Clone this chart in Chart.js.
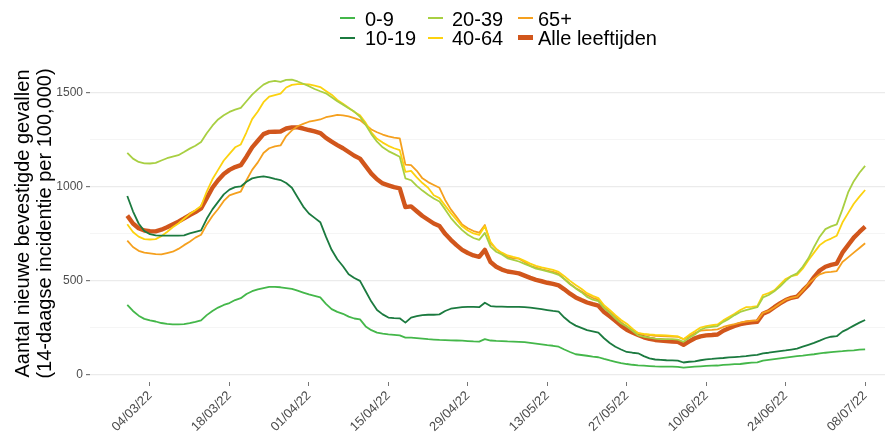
<!DOCTYPE html>
<html>
<head>
<meta charset="utf-8">
<script src="https://cdn.jsdelivr.net/npm/chart.js@4.4.1/dist/chart.umd.min.js"></script>
<style>
  html, body { margin: 0; padding: 0; background: #fff; }
  #wrap { position: relative; width: 885px; height: 438px; overflow: hidden; background: #fff; }
  #c { position: absolute; left: 0; top: 0; }
  .lg-text { position: absolute; font-family: "Liberation Sans", Arial, sans-serif; font-size: 20px; line-height: 19px; color: #000; white-space: nowrap; }
  .lg-key { position: absolute; width: 15px; }
</style>
</head>
<body>
<div id="wrap">
  <canvas id="c" width="885" height="438"></canvas>
  <div id="legend"></div>
</div>
<script>
// ---- Data (14-daagse incidentie per 100,000), daily from 28/02/22 to 08/07/22 ----
const seriesNames = ['0-9', '10-19', '20-39', '40-64', '65+', 'Alle leeftijden'];

const age0_9 = [
372,340,315,298,290,284,276,271,269,269,270,275,282,290,318,340,358,372,382,398,
408,430,445,455,462,468,468,466,462,458,448,438,428,420,412,378,350,335,325,310,
300,295,258,238,225,220,216,213,210,198,198,196,193,190,188,186,185,184,183,182,
180,178,177,190,183,181,180,178,177,176,174,170,166,162,158,155,150,135,122,110,
106,102,97,94,85,77,70,63,58,54,51,49,47,45,44,44,44,43,39,42,
44,46,48,49,50,53,55,57,58,62,65,67,76,80,84,88,92,96,100,103,
107,110,114,118,121,124,126,129,131,134,136];

const age10_19 = [
951,870,805,765,748,742,741,741,741,741,742,752,760,768,830,880,920,960,985,998,
1002,1027,1045,1052,1055,1050,1042,1036,1020,995,945,895,858,835,812,735,665,615,578,535,
515,500,445,390,345,322,305,302,301,278,305,312,318,320,320,322,340,352,357,360,
362,362,360,384,366,363,363,362,362,362,360,358,354,350,345,340,336,305,280,262,
250,238,232,225,195,170,150,135,122,118,115,100,88,82,80,78,77,76,66,70,
72,78,83,85,88,90,93,95,97,100,104,107,115,118,122,126,130,135,140,150,
160,170,182,195,203,206,230,245,262,278,292];

const age20_39 = [
1181,1150,1132,1125,1124,1127,1140,1152,1160,1168,1185,1203,1218,1238,1285,1325,1358,1380,1398,1410,
1420,1455,1490,1518,1543,1558,1563,1558,1568,1570,1560,1548,1535,1520,1508,1497,1476,1455,1437,1418,
1400,1372,1330,1280,1240,1210,1190,1175,1160,1045,1035,1005,980,958,938,922,880,835,800,770,
745,728,718,755,682,655,640,620,612,603,590,578,565,558,550,542,532,510,482,460,
440,415,400,392,355,330,300,275,258,235,210,203,198,193,190,190,190,188,176,198,
215,240,252,256,260,282,298,318,335,345,352,360,412,425,445,470,500,525,540,575,
620,680,735,775,790,800,880,970,1030,1075,1111];

const age40_64 = [
801,760,735,722,720,722,738,760,785,805,830,855,875,898,975,1040,1090,1140,1175,1210,
1225,1290,1360,1400,1450,1480,1488,1495,1528,1542,1546,1546,1545,1538,1530,1510,1490,1462,1442,1420,
1398,1380,1340,1290,1255,1235,1218,1205,1195,1080,1085,1050,1020,995,955,940,900,860,825,790,
768,752,744,790,708,668,650,635,627,620,606,592,580,572,565,558,548,525,500,478,
458,435,420,408,370,346,318,292,272,246,222,218,215,213,212,210,208,205,190,213,
232,252,260,264,268,290,308,325,345,360,362,365,425,435,450,480,510,525,532,565,
610,650,690,712,725,740,810,860,910,948,983];

const age65plus = [
714,680,660,650,646,642,641,648,655,670,690,708,730,745,800,845,882,925,955,965,
975,1035,1090,1130,1180,1205,1215,1220,1270,1300,1322,1335,1346,1352,1358,1370,1376,1382,1380,1375,
1365,1355,1330,1305,1290,1278,1268,1262,1258,1118,1115,1085,1045,1025,1010,995,930,880,840,800,
780,765,756,797,700,670,645,628,620,618,600,580,570,562,555,548,538,510,485,462,
445,425,410,400,360,336,310,280,258,238,222,216,212,208,207,205,204,203,190,205,
222,235,238,239,242,255,263,270,278,284,288,290,330,340,358,380,400,410,416,448,
485,512,535,545,548,552,600,625,650,675,700];

const allAges = [
847,805,780,768,764,763,772,785,800,815,832,850,866,885,940,995,1035,1068,1090,1105,
1115,1160,1210,1245,1280,1292,1293,1294,1310,1316,1316,1310,1302,1295,1286,1260,1240,1222,1205,1185,
1165,1150,1110,1070,1040,1018,1008,998,992,892,896,870,845,825,805,792,750,718,690,665,
648,635,628,665,600,575,560,550,545,540,528,516,505,498,490,484,476,455,432,412,
398,385,376,368,335,312,288,262,240,225,212,200,192,186,183,180,178,176,160,178,
195,205,210,212,215,235,248,260,270,276,280,283,325,338,360,380,398,410,416,448,
478,520,555,575,585,592,650,690,730,760,788];

const tickDates = ['04/03/22','18/03/22','01/04/22','15/04/22','29/04/22','13/05/22','27/05/22','10/06/22','24/06/22','08/07/22'];
const yMajorTicks = [0, 500, 1000, 1500];
const yMinorTicks = [250, 750, 1250];

// ---- Categories: the daily dates ----
const startUTC = Date.UTC(2022, 1, 28);
const dates = [];
for (let i = 0; i < allAges.length; i++) {
  const d = new Date(startUTC + i * 86400000);
  const dd = String(d.getUTCDate()).padStart(2, '0');
  const mm = String(d.getUTCMonth() + 1).padStart(2, '0');
  const yy = String(d.getUTCFullYear()).slice(2);
  dates.push(dd + '/' + mm + '/' + yy);
}

// ---- Styles ----
const FONT = '"Liberation Sans", Arial, sans-serif';
const colors = ['#44b74a', '#1b7a3f', '#a8cf42', '#fcd20f', '#f5a01e', '#d1561c'];
const widths = [1.8, 1.8, 1.8, 1.8, 1.8, 4.4];
const seriesValues = [age0_9, age10_19, age20_39, age40_64, age65plus, allAges];

Chart.defaults.font.family = FONT;

const datasets = seriesValues.map((vals, k) => ({
  label: seriesNames[k],
  data: vals.map((v, i) => ({ x: i, y: v })),
  borderColor: colors[k],
  backgroundColor: colors[k],
  borderWidth: widths[k],
  pointRadius: 0,
  tension: 0,
  borderJoinStyle: 'round',
  borderCapStyle: 'butt',
  fill: false
}));

new Chart(document.getElementById('c'), {
  type: 'line',
  data: { datasets },
  options: {
    responsive: false,
    animation: false,
    devicePixelRatio: 1,
    layout: { padding: { top: 65, left: 0, right: 0, bottom: 0 } },
    plugins: { legend: { display: false }, tooltip: { enabled: false } },
    scales: {
      x: {
        type: 'linear',
        min: -6.57,
        max: 133.5,
        afterBuildTicks: (s) => { s.ticks = tickDates.map(t => ({ value: dates.indexOf(t) })); },
        afterFit: (s) => { s.height = 56; },
        ticks: {
          autoSkip: false,
          minRotation: 45,
          maxRotation: 45,
          padding: 2,
          color: '#4d4d4d',
          font: { size: 13, family: FONT },
          callback: (v) => dates[v] !== undefined ? dates[v] : ''
        },
        grid: {
          drawOnChartArea: false,
          drawTicks: true,
          tickLength: 4,
          tickColor: '#777',
          tickWidth: 1
        },
        border: { display: false }
      },
      y: {
        type: 'linear',
        min: -37.6,
        max: 1647.6,
        afterBuildTicks: (s) => {
          s.ticks = yMajorTicks.concat(yMinorTicks).sort((a, b) => a - b).map(v => ({ value: v }));
        },
        afterFit: (s) => { s.width = 90; },
        ticks: {
          padding: 3,
          color: '#4d4d4d',
          font: { size: 12, family: FONT },
          callback: (v) => yMajorTicks.includes(v) ? String(v) : ''
        },
        grid: {
          color: (ctx) => yMajorTicks.includes(ctx.tick && ctx.tick.value) ? '#ebebeb' : '#f3f3f3',
          lineWidth: (ctx) => yMajorTicks.includes(ctx.tick && ctx.tick.value) ? 1.2 : 0.8,
          tickLength: 4,
          tickColor: (ctx) => yMajorTicks.includes(ctx.tick && ctx.tick.value) ? '#777' : 'rgba(0,0,0,0)'
        },
        border: { display: false },
        title: {
          display: true,
          text: ['Aantal nieuwe bevestigde gevallen', '(14-daagse incidentie per 100,000)'],
          color: '#000',
          font: { size: 20, family: FONT, lineHeight: 1.08 },
          padding: { top: 13, bottom: 0 }
        }
      }
    }
  }
});

// ---- Legend (3 columns x 2 rows, column-wise order) ----
const legend = document.getElementById('legend');
const keyX = [340, 428, 518];
const textX = [365, 452, 538];
const keyY = [18.3, 37.7];
const textTop = [9.8, 28.6];
seriesNames.forEach((name, k) => {
  const col = Math.floor(k / 2), row = k % 2;
  const h = k === 5 ? 5 : 2;
  const key = document.createElement('div');
  key.className = 'lg-key';
  key.style.left = keyX[col] + 'px';
  key.style.top = (keyY[row] - h / 2) + 'px';
  key.style.height = h + 'px';
  key.style.background = colors[k];
  legend.appendChild(key);
  const t = document.createElement('div');
  t.className = 'lg-text';
  t.style.left = textX[col] + 'px';
  t.style.top = textTop[row] + 'px';
  t.textContent = name;
  legend.appendChild(t);
});
</script>
</body>
</html>
